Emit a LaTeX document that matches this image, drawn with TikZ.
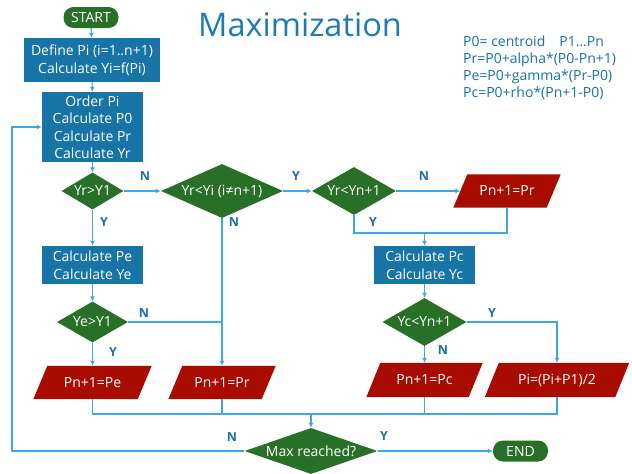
\documentclass[tikz,border=0pt]{standalone}
\usepackage{fontspec}
\setmainfont{Open Sans}
\usetikzlibrary{shapes.geometric,arrows.meta,backgrounds,calc}
\definecolor{boxblue}{RGB}{23,116,166}
\definecolor{dgreen}{RGB}{40,112,40}
\definecolor{dred}{RGB}{168,12,0}
\definecolor{lineblue}{RGB}{58,168,228}
\definecolor{lblue}{RGB}{24,112,170}
\definecolor{tblue}{RGB}{30,122,180}
\newcommand{\zb}[1]{\makebox[0pt]{#1}}
\tikzset{
  txt/.style={font=\fontsize{14}{17.5}\selectfont},
  proc/.style={rectangle, fill=boxblue, text=white, align=center, inner sep=0pt, txt},
  dec/.style={diamond, fill=dgreen, text=white, inner sep=0pt, txt},
  io/.style={rectangle, text=white, inner sep=0pt, txt},
  term/.style={rectangle, rounded corners=10pt, fill=dgreen, text=white, minimum width=55pt, minimum height=21pt, inner sep=0pt, txt},
  wire/.style={draw=lineblue, line width=1.1pt},
  conn/.style={wire, -{Latex[length=5pt,width=5pt]}},
  lab/.style={text=lblue, font=\bfseries\fontsize{12.5}{12.5}\selectfont},
}
\begin{document}
\begin{tikzpicture}[x=1pt,y=-1pt]
\useasboundingbox (0,0) rectangle (632,474);
% title and legend
\node[text=tblue, font=\fontsize{32.5}{33}\selectfont] (title) at (300,25) {Maximization};
\node[anchor=north west, align=left, text=lblue, inner sep=0pt, font=\fontsize{14}{17}\selectfont] (legend) at (463,36)
  {P0= centroid\quad P1...Pn\\ Pr=P0+alpha*(P0-Pn+1)\\ Pe=P0+gamma*(Pr-P0)\\ Pc=P0+rho*(Pn+1-P0)};
% nodes
\node[term] (start) at (91,17.5) {START};
\node[proc, minimum width=136pt, minimum height=44pt] (def) at (92,60) {Define Pi (i=1..n+1)\\Calculate Yi=f(Pi)};
\node[proc, minimum width=101pt, minimum height=70pt] (order) at (92.5,127) {Order Pi\\Calculate P0\\Calculate Pr\\Calculate Yr};
\node[dec, minimum width=62pt, minimum height=37pt] (d1) at (92.5,191) {\zb{Yr>Y1}};
\node[dec, minimum width=122pt, minimum height=54pt] (d2) at (222,191) {\zb{Yr<Yi (i≠n+1)}};
\node[dec, minimum width=84pt, minimum height=48pt] (d3) at (354,191) {\zb{Yr<Yn+1}};
\node[io, minimum width=93pt, minimum height=33pt] (p1) at (507,191) {\zb{Pn+1=Pr}};
\node[proc, minimum width=101pt, minimum height=38pt] (pe) at (92.5,265) {Calculate Pe\\Calculate Ye};
\node[dec, minimum width=71pt, minimum height=41pt] (d4) at (92.5,322) {\zb{Ye>Y1}};
\node[proc, minimum width=101pt, minimum height=38pt] (pc) at (424.5,265) {Calculate Pc\\Calculate Yc};
\node[dec, minimum width=84pt, minimum height=48pt] (d5) at (424.5,322) {\zb{Yc<Yn+1}};
\node[io, minimum width=104pt, minimum height=33pt] (p2) at (92.5,382.5) {\zb{Pn+1=Pe}};
\node[io, minimum width=93pt, minimum height=33pt] (p3) at (222,382.5) {\zb{Pn+1=Pr}};
\node[io, minimum width=102pt, minimum height=34pt] (p4) at (424.5,380) {\zb{Pn+1=Pc}};
\node[io, minimum width=130pt, minimum height=34pt] (p5) at (557,380) {\zb{Pi=(Pi+P1)/2}};
\node[dec, minimum width=133pt, minimum height=46pt] (dm) at (311,451) {\zb{Max reached?}};
\node[term] (end) at (520.5,451) {END};
% parallelogram bodies behind the io nodes
\begin{scope}[on background layer]
\foreach \n in {p1,p2,p3,p4,p5}{
  \fill[dred] ($(\n.south west)+(-7,0)$) -- ($(\n.south east)+(-7,0)$)
     -- ($(\n.north east)+(7,0)$) -- ($(\n.north west)+(7,0)$) -- cycle;
}
\end{scope}
% helper coordinates
\coordinate (m1) at (424.5,233);
\coordinate (m2) at (311,414);
\coordinate (l1) at (12,451);
\coordinate (l2) at (12,127);
% connectors
\draw[conn] (start) -- (def);
\draw[conn] (def) -- (order);
\draw[conn] (order) -- (d1);
\draw[conn] (d1) -- (d2);
\draw[conn] (d2) -- (d3);
\draw[conn] (d3) -- (p1);
\draw[conn] (d1) -- (pe);
\draw[conn] (pe) -- (d4);
\draw[conn] (d4) -- (p2);
\draw[wire] (d4.east) -- (d4.east -| d2.south);
\draw[conn] (d2.south) -- (p3);
\draw[wire] (d3.south) |- (m1) -| (p1.south);
\draw[conn] (m1) -- (pc);
\draw[conn] (pc) -- (d5);
\draw[conn] (d5) -- (p4);
\draw[conn] (d5.east) -| (p5);
\draw[wire] (p2) |- (p5 |- m2) -- (p5);
\draw[wire] (p3) -- (p3 |- m2);
\draw[wire] (p4) -- (p4 |- m2);
\draw[conn] (m2) -- (dm);
\draw[conn] (dm) -- (end);
\draw[conn] (dm.west) -- (l1) -- (l2) -- (order.west |- l2);
% labels
\node[lab] (n1) at (145,176) {N};
\node[lab] (y1) at (104,222) {Y};
\node[lab] (n2) at (234,222) {N};
\node[lab] (y2) at (296,176) {Y};
\node[lab] (n3) at (424,176) {N};
\node[lab] (y3) at (373,222) {Y};
\node[lab] (n4) at (144,313) {N};
\node[lab] (y4) at (113,352) {Y};
\node[lab] (y5) at (492,313) {Y};
\node[lab] (n5) at (443,350) {N};
\node[lab] (n6) at (232,437) {N};
\node[lab] (y6) at (384,436) {Y};
\end{tikzpicture}
\end{document}
